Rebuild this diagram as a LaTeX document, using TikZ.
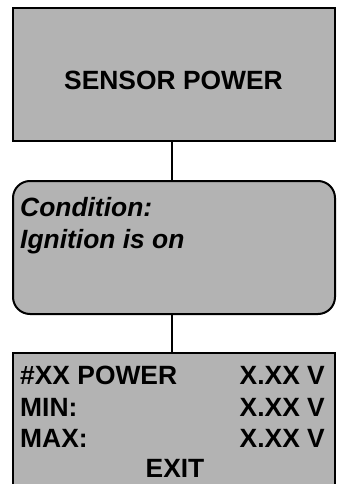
\documentclass[tikz,border=0pt]{standalone}
\usepackage{fontspec}
\setmainfont{Liberation Sans}
\usepackage{xcolor}
\usepackage{tikz}
\usetikzlibrary{positioning}
\definecolor{boxgray}{RGB}{179,179,179}

\begin{document}
\begin{tikzpicture}[
  x=1pt, y=-1pt,
  box/.style={draw, fill=boxgray, line width=2pt, minimum width=322pt, minimum height=133pt, inner sep=0pt},
  rbox/.style={box, rounded corners=17pt},
  txt/.style={inner sep=0pt, font=\fontsize{26.4}{30}\selectfont\bfseries},
  itxt/.style={txt, font=\fontsize{26.4}{30}\selectfont\bfseries\itshape}
]
  \clip (0,0) rectangle (339,484);

  \node[box] (sp) at (174,74.5) {};
  \node[rbox] (cond) at (174,247.5) {};
  \node[box, minimum height=160pt] (disp) at (174,433) {};

  \draw[line width=2pt] ([xshift=-2pt]sp.south) -- ([xshift=-2pt]cond.north);
  \draw[line width=2pt] ([xshift=-2pt]cond.south) -- ([xshift=-2pt]disp.north);

  \node[txt, anchor=base] (title) at (173.5,90) {SENSOR POWER};

  \node[itxt, anchor=base west] (c1) at (20,216.7) {Condition:};
  \node[itxt, anchor=base west] (c2) at (20,248.3) {Ignition is on};

  \node[txt, anchor=base west] (r1) at (20,384) {\#XX POWER};
  \node[txt, anchor=base west] (r2) at (20,416) {MIN:};
  \node[txt, anchor=base west] (r3) at (20,447.5) {MAX:};
  \node[txt, anchor=base east] (v1) at (325,384) {X.XX V};
  \node[txt, anchor=base east] (v2) at (325,416) {X.XX V};
  \node[txt, anchor=base east] (v3) at (325,447.5) {X.XX V};
  \node[txt, anchor=base] (exit) at (175,477) {EXIT};
\end{tikzpicture}
\end{document}
